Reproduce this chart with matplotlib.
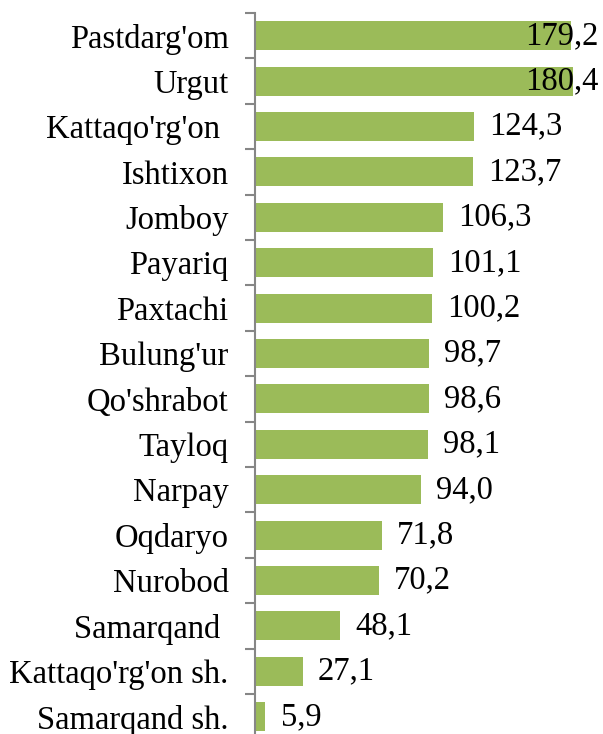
import matplotlib
matplotlib.use("Agg")
import matplotlib.pyplot as plt

districts = ["Pastdarg'om", "Urgut", "Kattaqo'rg'on ", "Ishtixon", "Jomboy", "Payariq",
             "Paxtachi", "Bulung'ur", "Qo'shrabot", "Tayloq", "Narpay", "Oqdaryo",
             "Nurobod", "Samarqand ", "Kattaqo'rg'on sh.", "Samarqand sh."]
values = [179.2, 180.4, 124.3, 123.7, 106.3, 101.1, 100.2, 98.7, 98.6, 98.1,
          94.0, 71.8, 70.2, 48.1, 27.1, 5.9]

plt.rcParams['font.family'] = ['Liberation Serif', 'DejaVu Serif']

fig = plt.figure(figsize=(6.03, 7.34), dpi=100)
# axes runs a bit past the bottom edge, like the cropped original
ax = fig.add_axes([255/603, 1-739.4/734, 348/603, 726.4/734])

pos = list(range(len(values)))
ax.barh(pos, values, height=0.64, color="#9BBB59")
xmax = 348/1.764
ax.set_xlim(0, xmax)
ax.set_ylim(len(values)-0.5, -0.5)

fs = 23.5
for y, v in zip(pos, values):
    lab = ("%.1f" % v).replace(".", ",")
    if v + 15/1.764 + 42/1.764 > xmax - 5/1.764:
        ax.text(xmax - 5/1.764, y, lab, ha="right", va="center", fontsize=fs)
    else:
        ax.annotate(lab, (v, y), xytext=(11, 0), textcoords="offset points",
                    ha="left", va="center", fontsize=fs)

ax.set_yticks(pos)
ax.set_yticklabels(districts, fontsize=fs)
ax.tick_params(axis="y", which="major", length=0, pad=19)
ax.set_yticks([p - 0.5 for p in range(len(values)+1)], minor=True)
ax.tick_params(axis="y", which="minor", length=7, width=1.5, color="#868686")
ax.set_xticks([])
for s in ["top", "right", "bottom"]:
    ax.spines[s].set_visible(False)
ax.spines["left"].set_color("#868686")
ax.spines["left"].set_linewidth(1.5)

fig.savefig("out.png", dpi=100)
